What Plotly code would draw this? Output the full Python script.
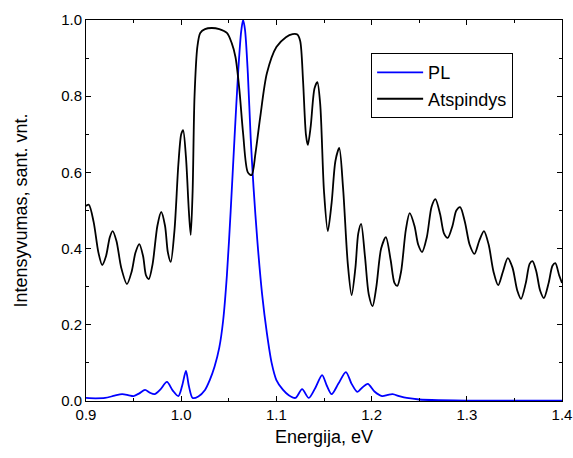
import plotly.graph_objects as go

# Reflectance (Atspindys)
refl_x = [0.900, 0.903, 0.908, 0.913, 0.917, 0.921, 0.925, 0.928, 0.932, 0.937, 0.943, 0.948, 0.952, 0.956,
          0.960, 0.963, 0.966, 0.970, 0.975, 0.979, 0.983, 0.986, 0.989, 0.993, 0.997, 1.000, 1.002, 1.005,
          1.008, 1.010, 1.012, 1.014, 1.017, 1.020, 1.025, 1.032, 1.040, 1.048, 1.053, 1.057, 1.061, 1.065,
          1.070, 1.074, 1.078, 1.083, 1.090, 1.100, 1.110, 1.117, 1.122, 1.125, 1.128, 1.131, 1.133, 1.136,
          1.140, 1.143, 1.146, 1.150, 1.154, 1.158, 1.162, 1.166, 1.170, 1.175, 1.179, 1.183, 1.186, 1.189,
          1.193, 1.197, 1.201, 1.205, 1.210, 1.215, 1.220, 1.224, 1.227, 1.231, 1.236, 1.240, 1.245, 1.249,
          1.253, 1.258, 1.263, 1.267, 1.272, 1.276, 1.280, 1.285, 1.289, 1.293, 1.298, 1.303, 1.308, 1.313,
          1.318, 1.323, 1.328, 1.333, 1.338, 1.343, 1.348, 1.353, 1.357, 1.362, 1.366, 1.369, 1.373, 1.377,
          1.381, 1.386, 1.390, 1.393, 1.397, 1.400]
refl_y = [0.512, 0.515, 0.470, 0.390, 0.357, 0.380, 0.430, 0.446, 0.420, 0.350, 0.307, 0.340, 0.390, 0.412,
          0.380, 0.330, 0.320, 0.360, 0.460, 0.496, 0.460, 0.390, 0.365, 0.450, 0.620, 0.700, 0.711, 0.640,
          0.500, 0.436, 0.550, 0.800, 0.930, 0.966, 0.976, 0.979, 0.976, 0.966, 0.940, 0.903, 0.820, 0.703,
          0.600, 0.593, 0.650, 0.745, 0.860, 0.929, 0.955, 0.963, 0.962, 0.945, 0.840, 0.700, 0.672, 0.720,
          0.820, 0.837, 0.780, 0.550, 0.446, 0.520, 0.630, 0.664, 0.560, 0.360, 0.278, 0.350, 0.440, 0.465,
          0.380, 0.280, 0.249, 0.300, 0.400, 0.430, 0.370, 0.310, 0.302, 0.340, 0.450, 0.493, 0.460, 0.410,
          0.391, 0.430, 0.510, 0.530, 0.490, 0.440, 0.428, 0.460, 0.500, 0.509, 0.470, 0.410, 0.386, 0.420,
          0.446, 0.410, 0.340, 0.304, 0.340, 0.375, 0.350, 0.290, 0.268, 0.310, 0.360, 0.367, 0.340, 0.290,
          0.270, 0.310, 0.355, 0.362, 0.330, 0.310]

# Photoluminescence (PL)
pl_x = [0.900, 0.910, 0.920, 0.930, 0.938, 0.945, 0.950, 0.956, 0.962, 0.967, 0.972, 0.978, 0.985, 0.991,
        0.997, 1.001, 1.005, 1.008, 1.012, 1.018, 1.025, 1.030, 1.035, 1.040, 1.044, 1.048, 1.052, 1.056,
        1.060, 1.063, 1.065, 1.067, 1.070, 1.073, 1.076, 1.080, 1.085, 1.090, 1.095, 1.100, 1.107, 1.113,
        1.120, 1.127, 1.134, 1.141, 1.148, 1.153, 1.158, 1.165, 1.173, 1.179, 1.185, 1.190, 1.196, 1.203,
        1.211, 1.217, 1.222, 1.230, 1.237, 1.250, 1.270, 1.300, 1.350, 1.400]
pl_y = [0.008, 0.007, 0.008, 0.014, 0.018, 0.015, 0.013, 0.020, 0.029, 0.022, 0.018, 0.030, 0.050, 0.028,
        0.013, 0.040, 0.079, 0.040, 0.008, 0.012, 0.029, 0.055, 0.090, 0.140, 0.210, 0.330, 0.500, 0.690,
        0.870, 0.970, 1.000, 0.975, 0.860, 0.690, 0.560, 0.420, 0.280, 0.178, 0.100, 0.055, 0.029, 0.015,
        0.008, 0.031, 0.008, 0.035, 0.068, 0.040, 0.018, 0.045, 0.076, 0.045, 0.024, 0.035, 0.045, 0.025,
        0.013, 0.016, 0.018, 0.012, 0.008, 0.004, 0.002, 0.001, 0.001, 0.001]

x_ticks = [0.9, 1.0, 1.1, 1.2, 1.3, 1.4]
y_ticks = [0.0, 0.2, 0.4, 0.6, 0.8, 1.0]

fig = go.Figure()
fig.add_trace(go.Scatter(x=pl_x, y=pl_y, mode="lines", name="PL",
                         line=dict(color="#0000ff", width=1.8, shape="spline", smoothing=0.8)))
fig.add_trace(go.Scatter(x=refl_x, y=refl_y, mode="lines", name="Atspindys",
                         line=dict(color="#000000", width=1.8, shape="spline", smoothing=0.8)))

font_family = "Liberation Sans, Arial, sans-serif"
axis_common = dict(showline=True, linecolor="black", linewidth=1, mirror="allticks",
                   ticks="inside", ticklen=5, tickwidth=1, tickcolor="black",
                   showgrid=False, zeroline=False, automargin=False,
                   tickfont=dict(family=font_family, size=15, color="black"))

fig.update_layout(
    width=573, height=458,
    margin=dict(l=86, r=11, t=20, b=57),
    paper_bgcolor="white", plot_bgcolor="white",
    font=dict(family=font_family, color="black"),
    xaxis=dict(range=[0.9, 1.4], tickvals=x_ticks, ticktext=[f"{v:.1f}" for v in x_ticks],
               minor=dict(dtick=0.05, ticks="inside", ticklen=3, tickcolor="black"),
               title=dict(text="Energija, eV", font=dict(family=font_family, size=18), standoff=8),
               **axis_common),
    yaxis=dict(range=[0.0, 1.0], tickvals=y_ticks, ticktext=[f"{v:.1f}" for v in y_ticks],
               minor=dict(dtick=0.1, ticks="inside", ticklen=3, tickcolor="black"),
               title=dict(text="Intensyvumas, sant. vnt.", font=dict(family=font_family, size=18), standoff=28),
               **axis_common),
    legend=dict(x=0.599, y=0.913, xanchor="left", yanchor="top",
                bordercolor="black", borderwidth=1, bgcolor="white",
                font=dict(family=font_family, size=18), tracegroupgap=0,
                itemwidth=46),
    showlegend=True,
)

fig.write_html("out.html")
